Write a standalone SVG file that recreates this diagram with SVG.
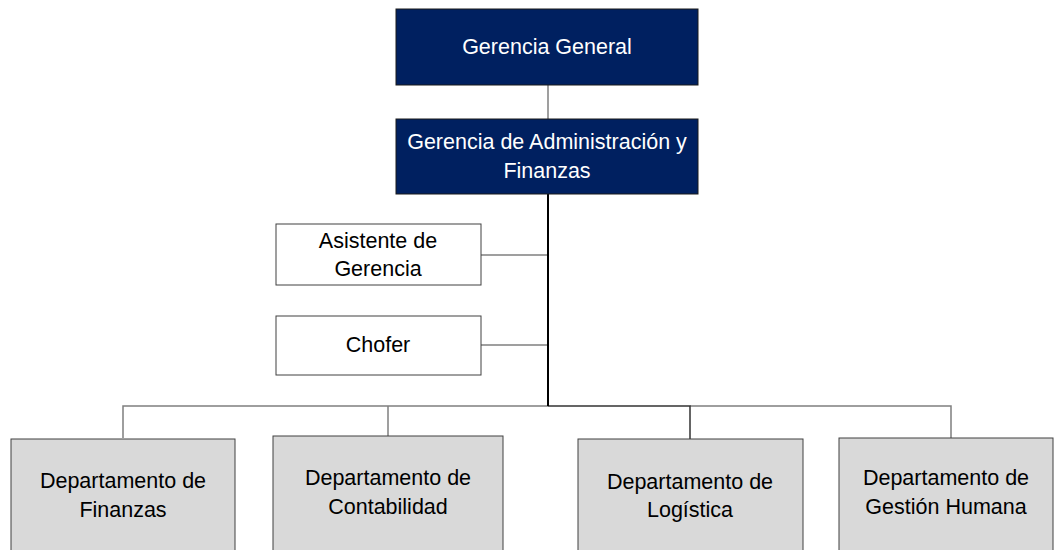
<svg xmlns="http://www.w3.org/2000/svg" width="1060" height="550" viewBox="0 0 1060 550">
<style>
text{font-family:"Liberation Sans",Arial,sans-serif;font-size:21.5px;text-anchor:middle;dominant-baseline:central}
.navy rect{fill:#002060;stroke:#1a1a1a;stroke-width:1}
.navy text{fill:#ffffff}
.white rect{fill:#ffffff;stroke:#404040;stroke-width:1}
.grey rect{fill:#d9d9d9;stroke:#404040;stroke-width:1}
.white text,.grey text{fill:#000000}
.c{fill:none;stroke:#7f7f7f;stroke-width:1.5}
.d{fill:none;stroke:#333333;stroke-width:1.5}
.k{fill:none;stroke:#000000;stroke-width:2}
</style>
<rect width="1060" height="550" fill="#ffffff"/>
<g id="connectors">
<line class="c" x1="548" y1="85" x2="548" y2="119"/>
<line class="c" x1="481" y1="255" x2="548" y2="255"/>
<line class="c" x1="481" y1="345" x2="548" y2="345"/>
<polyline class="c" points="123,438 123,406 548,406"/>
<line class="c" x1="388" y1="406" x2="388" y2="436"/>
<polyline class="c" points="690,406 951,406 951,438"/>
<polyline class="d" points="548,406 690,406 690,439"/>
<line class="k" x1="548" y1="194" x2="548" y2="406"/>
</g>
<g id="gerencia-general" class="navy">
<rect x="396" y="9" width="302" height="76"/>
<text x="547" y="47">Gerencia General</text>
</g>
<g id="gerencia-admin" class="navy">
<rect x="396" y="119" width="302" height="75"/>
<text x="547" y="142">Gerencia de Administración y</text>
<text x="547" y="171">Finanzas</text>
</g>
<g id="asistente" class="white">
<rect x="276" y="224" width="205" height="61"/>
<text x="378" y="241">Asistente de</text>
<text x="378" y="269">Gerencia</text>
</g>
<g id="chofer" class="white">
<rect x="276" y="316" width="205" height="59"/>
<text x="378" y="345">Chofer</text>
</g>
<g id="dep-finanzas" class="grey">
<rect x="11" y="439" width="224" height="120"/>
<text x="123" y="481">Departamento de</text>
<text x="123" y="510">Finanzas</text>
</g>
<g id="dep-contabilidad" class="grey">
<rect x="273" y="436" width="230" height="120"/>
<text x="388" y="478">Departamento de</text>
<text x="388" y="507">Contabilidad</text>
</g>
<g id="dep-logistica" class="grey">
<rect x="578" y="439" width="225" height="120"/>
<text x="690" y="482">Departamento de</text>
<text x="690" y="510">Logística</text>
</g>
<g id="dep-gestion" class="grey">
<rect x="839" y="438" width="214" height="120"/>
<text x="946" y="478">Departamento de</text>
<text x="946" y="507">Gestión Humana</text>
</g>
</svg>
